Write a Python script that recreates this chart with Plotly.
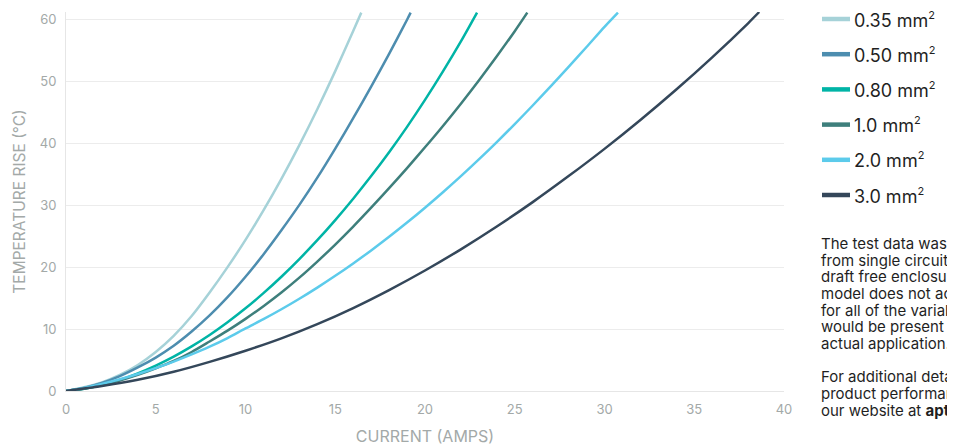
import plotly.graph_objects as go

# ---- data ----
series_names = ["0.35 mm<sup>2</sup>", "0.50 mm<sup>2</sup>", "0.80 mm<sup>2</sup>",
                "1.0 mm<sup>2</sup>", "2.0 mm<sup>2</sup>", "3.0 mm<sup>2</sup>"]

i_035 = [0, 1, 2, 3, 4, 5, 6, 7, 8, 9, 10, 11, 12, 13, 14, 15, 16, 16.45]
t_035 = [0, 0.6, 1.4, 2.6, 4.2, 6.3, 8.9, 12.1, 15.9, 20.0, 24.4, 29.15, 34.25, 39.7, 45.5, 51.65, 58.15, 61.1]

i_050 = [0, 1, 2, 3, 4, 5, 6, 7, 8, 9, 10, 11, 12, 13, 14, 15, 16, 17, 18, 19, 19.2]
t_050 = [0, 0.5, 1.3, 2.4, 3.8, 5.4, 7.3, 9.6, 12.2, 15.15, 18.45, 22.05, 25.95, 30.05, 34.45, 39.15, 44.05, 49.15, 54.45, 59.95, 61.1]

i_080 = [0, 1, 2, 3, 4, 5, 6, 7, 8, 9, 10, 11, 12, 13, 14, 15, 16, 17, 18, 19, 20, 21, 22, 22.9]
t_080 = [0, 0.35, 0.95, 1.8, 2.85, 4.1, 5.55, 7.2, 9.05, 11.1, 13.35, 15.8, 18.45, 21.3, 24.35, 27.6, 31.05, 34.7, 38.55, 42.65, 47.0, 51.6, 56.45, 61.1]

i_100 = [0, 1, 2, 3, 4, 5, 6, 7, 8, 9, 10, 11, 12, 13, 14, 15, 16, 17, 18, 19, 20, 21, 22, 23, 24, 25, 25.7]
t_100 = [0, 0.38, 0.95, 1.7, 2.6, 3.65, 4.85, 6.3, 8.0, 9.75, 11.65, 13.7, 15.9, 18.3, 20.9, 23.65, 26.55, 29.6, 32.75, 36.0, 39.35, 42.8, 46.4, 50.15, 54.05, 58.1, 61.1]

i_200 = [0, 1, 2, 3, 4, 5, 6, 7, 8, 9, 10, 11, 12, 13, 14, 15, 16, 17, 18, 19, 20, 21, 22, 23, 24, 25, 26, 27, 28, 29, 30, 30.75]
t_200 = [0, 0.5, 1.15, 1.9, 2.75, 3.7, 4.75, 5.9, 7.15, 8.55, 10.1, 11.6, 13.2, 14.9, 16.7, 18.6, 20.6, 22.7, 24.9, 27.2, 29.6, 32.1, 34.7, 37.4, 40.2, 43.1, 46.1, 49.2, 52.35, 55.55, 58.8, 61.1]

i_300 = [0, 2, 4, 6, 8, 10, 12, 14, 16, 18, 20, 22, 24, 26, 28, 30, 32, 34, 36, 38, 38.62]
t_300 = [0, 0.8, 1.8, 3.1, 4.7, 6.5, 8.5, 10.8, 13.4, 16.3, 19.46, 22.88, 26.56, 30.5, 34.7, 39.1, 43.76, 48.68, 53.88, 59.38, 61.2]

currents = [i_035, i_050, i_080, i_100, i_200, i_300]
temps = [t_035, t_050, t_080, t_100, t_200, t_300]
colors = ["#a6d2d8", "#4d8daf", "#00b4a6", "#3e7f7c", "#5ccbeb", "#34475a"]

x_ticks = [0, 5, 10, 15, 20, 25, 30, 35, 40]
y_ticks = [0, 10, 20, 30, 40, 50, 60]

note_lines = ["The test data was obtained", "from single circuits in a", "draft free enclosure. This",
              "model does not account", "for all of the variables that", "would be present in an",
              "actual application.", "",
              "For additional details on", "product performance, visit",
              "our website at <b>aptiv.com</b>"]

# ---- figure ----
# the page has an 8px body margin, so the figure is 8px smaller and all
# positions below are given in window pixels and shifted by OFF
OFF = 8
W, H = 955 - OFF, 446 - OFF
ML, MT = 66 - OFF, 12 - OFF
MR = W - (784 - OFF)
MB = H - (391 - OFF)
PW, PH = W - ML - MR, H - MT - MB


def px_to_paper_x(px):
    return (px - OFF - ML) / PW


def px_to_paper_y(py):
    return (H - MB - (py - OFF)) / PH


fig = go.Figure()
for k in range(len(series_names)):
    fig.add_trace(go.Scatter(
        x=currents[k], y=temps[k], mode="lines", name=series_names[k],
        line=dict(color=colors[k], width=2.5, shape="spline", smoothing=0.8),
        showlegend=False,
    ))

shapes = []
annotations = []
# manual legend
for k in range(len(series_names)):
    yc = px_to_paper_y(19 + k * 35.2)
    shapes.append(dict(type="line", xref="paper", yref="paper",
                       x0=px_to_paper_x(822), x1=px_to_paper_x(850), y0=yc, y1=yc,
                       line=dict(color=colors[k], width=4.5)))
    annotations.append(dict(x=px_to_paper_x(852), y=yc, xref="paper", yref="paper",
                            xanchor="left", yanchor="middle", showarrow=False,
                            text=series_names[k].replace("<sup>2</sup>",
                                                         "<sup><span style='font-size:11px'>2</span></sup>"),
                            font=dict(size=18, color="#1f1f1f", family="Inter, sans-serif")))

# side note, line by line
for j, line in enumerate(note_lines):
    if not line:
        continue
    annotations.append(dict(x=px_to_paper_x(819), y=px_to_paper_y(243.3 + j * 16.7),
                            xref="paper", yref="paper", xanchor="left", yanchor="middle",
                            showarrow=False, align="left", text=line,
                            font=dict(size=15, color="#1f1f1f", family="Inter, sans-serif")))

fig.update_layout(
    width=W, height=H,
    margin=dict(l=ML, r=MR, t=MT, b=MB, autoexpand=False),
    paper_bgcolor="white", plot_bgcolor="white",
    font=dict(family="Inter, Noto Sans, sans-serif", color="#222222"),
    showlegend=False,
    xaxis=dict(range=[0, 40], tickvals=x_ticks, showgrid=False, zeroline=False,
               showline=True, linecolor="#e6e6e6", linewidth=1, automargin=False,
               tickfont=dict(size=13, color="#a3a9a8"), ticklabelstandoff=6,
               title=dict(text="CURRENT (AMPS)", font=dict(size=16, color="#a3a9a8"), standoff=15)),
    yaxis=dict(range=[0, 61.2], tickvals=y_ticks, showgrid=True, gridcolor="#ececec",
               gridwidth=1, zeroline=False, showline=True, linecolor="#e6e6e6", linewidth=1,
               automargin=False,
               tickfont=dict(size=13, color="#a3a9a8"), ticklabelstandoff=6,
               title=dict(text="TEMPERATURE RISE (°C)", font=dict(size=15.5, color="#a3a9a8"), standoff=10)),
    shapes=shapes,
    annotations=annotations,
)

fig.write_html("out.html")
